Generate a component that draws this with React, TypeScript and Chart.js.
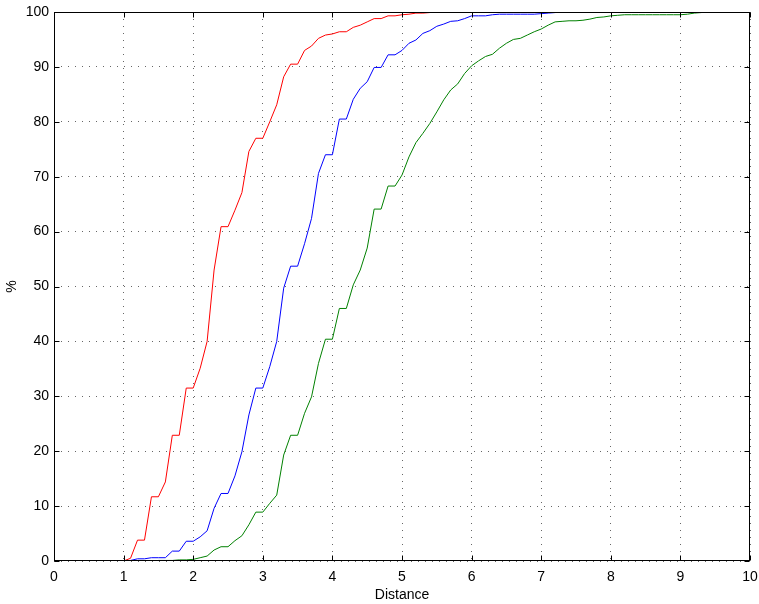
import React, { useEffect, useRef } from "react";
import { Chart, registerables } from "chart.js";

Chart.register(...registerables);

const distances = [
  0,
  1.0, 1.1, 1.2, 1.3, 1.4, 1.5, 1.6, 1.7, 1.8, 1.9,
  2.0, 2.1, 2.2, 2.3, 2.4, 2.5, 2.6, 2.7, 2.8, 2.9,
  3.0, 3.1, 3.2, 3.3, 3.4, 3.5, 3.6, 3.7, 3.8, 3.9,
  4.0, 4.1, 4.2, 4.3, 4.4, 4.5, 4.6, 4.7, 4.8, 4.9,
  5.0, 5.1, 5.2, 5.3, 5.4, 5.5, 5.6, 5.7, 5.8, 5.9,
  6.0, 6.1, 6.2, 6.3, 6.4, 6.5, 6.6, 6.7, 6.8, 6.9,
  7.0, 7.1, 7.2, 7.3, 7.4, 7.5, 7.6, 7.7, 7.8, 7.9,
  8.0, 8.1, 8.2, 8.3, 8.4, 8.5, 8.6, 8.7, 8.8, 8.9,
  9.0, 9.1, 9.2, 9.3, 9.4, 9.5,
  10,
];

const redPercent = [
  0,
  0, 0.5, 3.8, 3.8, 11.7, 11.7, 14.4, 22.9, 22.9, 31.5,
  31.5, 35.1, 40.0, 53.0, 60.9, 60.9, 63.9, 67.1, 74.6, 77.0,
  77.0, 80.0, 83.1, 88.2, 90.5, 90.5, 93.0, 93.8, 95.2, 95.8,
  96.0, 96.4, 96.4, 97.2, 97.6, 98.2, 98.8, 98.8, 99.3, 99.3,
  99.5, 99.6, 99.8, 99.8, 99.9, 100, 100, 100, 100, 100,
  100, 100, 100, 100, 100, 100, 100, 100, 100, 100,
  100, 100, 100, 100, 100, 100, 100, 100, 100, 100,
  100, 100, 100, 100, 100, 100, 100, 100, 100, 100,
  100, 100, 100, 100, 100, 100,
  100,
];

const bluePercent = [
  0,
  0, 0.1, 0.4, 0.4, 0.6, 0.6, 0.6, 1.8, 1.8, 3.6,
  3.6, 4.4, 5.5, 9.6, 12.3, 12.3, 15.5, 19.9, 26.6, 31.5,
  31.5, 35.4, 40.0, 49.7, 53.7, 53.7, 57.8, 62.4, 70.6, 74.0,
  74.0, 80.5, 80.5, 84.1, 86.1, 87.3, 89.9, 89.9, 92.2, 92.2,
  93.0, 94.3, 94.9, 96.1, 96.6, 97.4, 97.8, 98.3, 98.4, 98.8,
  99.3, 99.3, 99.3, 99.5, 99.6, 99.6, 99.6, 99.6, 99.6, 99.6,
  99.7, 99.8, 99.9, 100, 100, 100, 100, 100, 100, 100,
  100, 100, 100, 100, 100, 100, 100, 100, 100, 100,
  100, 100, 100, 100, 100, 100,
  100,
];

const greenPercent = [
  0,
  0, 0, 0, 0, 0, 0.1, 0.1, 0.1, 0.2, 0.2,
  0.3, 0.6, 0.9, 2.0, 2.6, 2.6, 3.7, 4.6, 6.6, 8.9,
  8.9, 10.5, 12.0, 19.3, 22.9, 22.9, 26.9, 29.9, 36.0, 40.4,
  40.4, 46.0, 46.0, 50.3, 53.0, 57.0, 64.1, 64.1, 68.3, 68.3,
  70.3, 73.6, 76.2, 77.9, 79.7, 81.8, 84.0, 85.8, 86.9, 88.8,
  90.2, 91.1, 91.9, 92.3, 93.4, 94.3, 95.0, 95.2, 95.8, 96.4,
  96.9, 97.6, 98.2, 98.3, 98.4, 98.4, 98.5, 98.7, 99.0, 99.1,
  99.3, 99.4, 99.5, 99.5, 99.5, 99.5, 99.5, 99.5, 99.5, 99.5,
  99.5, 99.6, 99.8, 99.9, 100, 100,
  100,
];

const xTitle = "Distance";
const yTitle = "%";

const FONT = "'Liberation Sans', Arial, Helvetica, sans-serif";

const boxPlugin = {
  id: "matlabBox",
  afterDraw(chart: any) {
    const { ctx, chartArea } = chart;
    const xs = chart.scales.x;
    const ys = chart.scales.y;
    const L = Math.round(chartArea.left) + 0.5;
    const R = Math.round(chartArea.right) - 0.5;
    const T = Math.round(chartArea.top) + 0.5;
    const B = Math.round(chartArea.bottom) - 0.5;
    const tl = 5;
    ctx.save();
    ctx.setLineDash([]);
    ctx.strokeStyle = "#000";
    ctx.lineWidth = 1;
    ctx.beginPath();
    xs.ticks.forEach((t: any) => {
      const px = Math.round(xs.getPixelForValue(t.value)) + 0.5;
      ctx.moveTo(px, B);
      ctx.lineTo(px, B - tl);
      ctx.moveTo(px, T);
      ctx.lineTo(px, T + tl);
    });
    ys.ticks.forEach((t: any) => {
      const py = Math.round(ys.getPixelForValue(t.value)) + 0.5;
      ctx.moveTo(L, py);
      ctx.lineTo(L + tl, py);
      ctx.moveTo(R, py);
      ctx.lineTo(R - tl, py);
    });
    ctx.stroke();
    ctx.strokeRect(L, T, R - L, B - T);
    ctx.restore();
  },
};

export default function App() {
  const ref = useRef<HTMLCanvasElement | null>(null);

  useEffect(() => {
    document.body.style.margin = "0";
    const canvas = ref.current;
    if (!canvas) return;
    const mk = (ys: number[]) => distances.map((d, i) => ({ x: d, y: ys[i] }));
    const chart = new Chart(canvas, {
      type: "line",
      data: {
        datasets: [
          { label: "red", data: mk(redPercent), borderColor: "#ff0000", borderWidth: 1, pointRadius: 0, tension: 0, fill: false },
          { label: "blue", data: mk(bluePercent), borderColor: "#0000ff", borderWidth: 1, pointRadius: 0, tension: 0, fill: false },
          { label: "green", data: mk(greenPercent), borderColor: "#008000", borderWidth: 1, pointRadius: 0, tension: 0, fill: false },
        ],
      },
      options: {
        responsive: false,
        animation: false,
        devicePixelRatio: 1,
        layout: { padding: { top: 12, right: 9, left: 0, bottom: 0 } },
        plugins: { legend: { display: false }, tooltip: { enabled: false } },
        scales: {
          x: {
            type: "linear",
            min: 0,
            max: 10,
            afterFit: (s: any) => { s.height = 43; s.paddingLeft = 0; s.paddingRight = 0; },
            ticks: { stepSize: 1, color: "#000", padding: 8, maxRotation: 0, font: { family: FONT, size: 14 } },
            grid: { color: "rgba(0,0,0,0.6)", lineWidth: 1, drawTicks: false },
            border: { display: false, dash: [1, 6] },
            title: { display: true, text: xTitle, color: "#000", font: { family: FONT, size: 14 }, padding: { top: 0, bottom: 0 } },
          },
          y: {
            type: "linear",
            min: 0,
            max: 100,
            afterFit: (s: any) => { s.width = 54; s.paddingTop = 0; s.paddingBottom = 0; },
            ticks: { stepSize: 10, color: "#000", padding: 5, font: { family: FONT, size: 14 } },
            grid: { color: "rgba(0,0,0,0.6)", lineWidth: 1, drawTicks: false },
            border: { display: false, dash: [1, 6] },
            title: { display: true, text: yTitle, color: "#000", font: { family: FONT, size: 14 }, padding: { top: 4, bottom: 0 } },
          },
        },
      },
      plugins: [boxPlugin],
    });
    return () => chart.destroy();
  }, []);

  return (
    <div style={{ width: 759, height: 604, background: "#fff" }}>
      <canvas ref={ref} width={759} height={604} style={{ display: "block" }} />
    </div>
  );
}
